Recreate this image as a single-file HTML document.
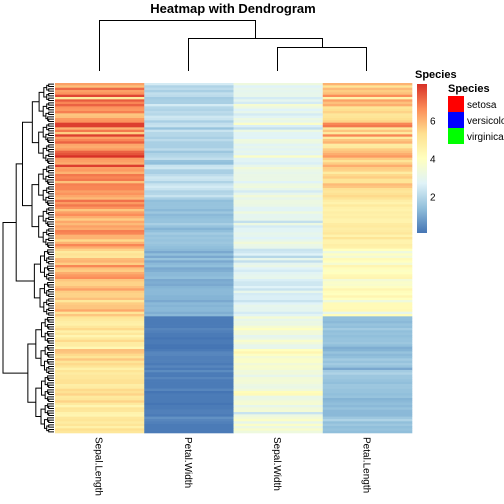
<!DOCTYPE html>
<html><head><meta charset="utf-8"><style>
body{margin:0;background:#fff;}
svg{display:block;font-family:"Liberation Sans",sans-serif;}
</style></head><body>
<svg id="c" width="504" height="504">
<text x="233" y="13" text-anchor="middle" font-size="13" font-weight="bold">Heatmap with Dendrogram</text>
<g id="col-dendro" stroke="#000" stroke-width="1" fill="none">
<path d="M99.5 71V20.5H255.5V38.5"/><path d="M188.5 71V38.5H322.5V47.5"/><path d="M277.5 71V47.5H366.5V71"/>
</g>
<g id="row-dendro" stroke="#000" stroke-width="1" fill="none"></g>
<g id="cells"></g>
<g id="xlabels" font-size="10" fill="#000"></g>
<g>
<text x="415" y="78" font-size="11" font-weight="bold">Species</text>
<defs><linearGradient id="g" x1="0" y1="1" x2="0" y2="0">
<stop offset="0" stop-color="#4575B4"/><stop offset="0.1667" stop-color="#91BFDB"/><stop offset="0.3333" stop-color="#E0F3F8"/><stop offset="0.5" stop-color="#FFFFBF"/><stop offset="0.6667" stop-color="#FEE090"/><stop offset="0.8333" stop-color="#FC8D59"/><stop offset="1" stop-color="#D73027"/></linearGradient></defs>
<rect x="417" y="84" width="10" height="149" fill="url(#g)"/>
<g id="cticks" font-size="10"></g>
</g>
<g font-size="10">
<text x="448" y="92" font-size="11" font-weight="bold">Species</text>
<rect x="448" y="96" width="16" height="16" fill="#ff0000"/>
<rect x="448" y="112" width="16" height="16" fill="#0000ff"/>
<rect x="448" y="128" width="16" height="16" fill="#00ff00"/>
<text x="467" y="108">setosa</text>
<text x="467" y="124">versicolor</text>
<text x="467" y="140">virginica</text>
</g>
</svg>
<script>
const columns=["Sepal.Length","Petal.Width","Sepal.Width","Petal.Length"];
const colorTicks=[2,4,6];
const setosa=[[5.1,3.5,1.4,0.2],[4.9,3.0,1.4,0.2],[4.7,3.2,1.3,0.2],[4.6,3.1,1.5,0.2],[5.0,3.6,1.4,0.2],[5.4,3.9,1.7,0.4],[4.6,3.4,1.4,0.3],[5.0,3.4,1.5,0.2],[4.4,2.9,1.4,0.2],[4.9,3.1,1.5,0.1],[5.4,3.7,1.5,0.2],[4.8,3.4,1.6,0.2],[4.8,3.0,1.4,0.1],[4.3,3.0,1.1,0.1],[5.8,4.0,1.2,0.2],[5.7,4.4,1.5,0.4],[5.4,3.9,1.3,0.4],[5.1,3.5,1.4,0.3],[5.7,3.8,1.7,0.3],[5.1,3.8,1.5,0.3],[5.4,3.4,1.7,0.2],[5.1,3.7,1.5,0.4],[4.6,3.6,1.0,0.2],[5.1,3.3,1.7,0.5],[4.8,3.4,1.9,0.2],[5.0,3.0,1.6,0.2],[5.0,3.4,1.6,0.4],[5.2,3.5,1.5,0.2],[5.2,3.4,1.4,0.2],[4.7,3.2,1.6,0.2],[4.8,3.1,1.6,0.2],[5.4,3.4,1.5,0.4],[5.2,4.1,1.5,0.1],[5.5,4.2,1.4,0.2],[4.9,3.1,1.5,0.2],[5.0,3.2,1.2,0.2],[5.5,3.5,1.3,0.2],[4.9,3.6,1.4,0.1],[4.4,3.0,1.3,0.2],[5.1,3.4,1.5,0.2],[5.0,3.5,1.3,0.3],[4.5,2.3,1.3,0.3],[4.4,3.2,1.3,0.2],[5.0,3.5,1.6,0.6],[5.1,3.8,1.9,0.4],[4.8,3.0,1.4,0.3],[5.1,3.8,1.6,0.2],[4.6,3.2,1.4,0.2],[5.3,3.7,1.5,0.2],[5.0,3.3,1.4,0.2]];
const versicolor=[[7.0,3.2,4.7,1.4],[6.4,3.2,4.5,1.5],[6.9,3.1,4.9,1.5],[5.5,2.3,4.0,1.3],[6.5,2.8,4.6,1.5],[5.7,2.8,4.5,1.3],[6.3,3.3,4.7,1.6],[4.9,2.4,3.3,1.0],[6.6,2.9,4.6,1.3],[5.2,2.7,3.9,1.4],[5.0,2.0,3.5,1.0],[5.9,3.0,4.2,1.5],[6.0,2.2,4.0,1.0],[6.1,2.9,4.7,1.4],[5.6,2.9,3.6,1.3],[6.7,3.1,4.4,1.4],[5.6,3.0,4.5,1.5],[5.8,2.7,4.1,1.0],[6.2,2.2,4.5,1.5],[5.6,2.5,3.9,1.1],[5.9,3.2,4.8,1.8],[6.1,2.8,4.0,1.3],[6.3,2.5,4.9,1.5],[6.1,2.8,4.7,1.2],[6.4,2.9,4.3,1.3],[6.6,3.0,4.4,1.4],[6.8,2.8,4.8,1.4],[6.7,3.0,5.0,1.7],[6.0,2.9,4.5,1.5],[5.7,2.6,3.5,1.0],[5.5,2.4,3.8,1.1],[5.5,2.4,3.7,1.0],[5.8,2.7,3.9,1.2],[6.0,2.7,5.1,1.6],[5.4,3.0,4.5,1.5],[6.0,3.4,4.5,1.6],[6.7,3.1,4.7,1.5],[6.3,2.3,4.4,1.3],[5.6,3.0,4.1,1.3],[5.5,2.5,4.0,1.3],[5.5,2.6,4.4,1.2],[6.1,3.0,4.6,1.4],[5.8,2.6,4.0,1.2],[5.0,2.3,3.3,1.0],[5.6,2.7,4.2,1.3],[5.7,3.0,4.2,1.2],[5.7,2.9,4.2,1.3],[6.2,2.9,4.3,1.3],[5.1,2.5,3.0,1.1],[5.7,2.8,4.1,1.3]];
const virginica=[[6.3,3.3,6.0,2.5],[5.8,2.7,5.1,1.9],[7.1,3.0,5.9,2.1],[6.3,2.9,5.6,1.8],[6.5,3.0,5.8,2.2],[7.6,3.0,6.6,2.1],[4.9,2.5,4.5,1.7],[7.3,2.9,6.3,1.8],[6.7,2.5,5.8,1.8],[7.2,3.6,6.1,2.5],[6.5,3.2,5.1,2.0],[6.4,2.7,5.3,1.9],[6.8,3.0,5.5,2.1],[5.7,2.5,5.0,2.0],[5.8,2.8,5.1,2.4],[6.4,3.2,5.3,2.3],[6.5,3.0,5.5,1.8],[7.7,3.8,6.7,2.2],[7.7,2.6,6.9,2.3],[6.0,2.2,5.0,1.5],[6.9,3.2,5.7,2.3],[5.6,2.8,4.9,2.0],[7.7,2.8,6.7,2.0],[6.3,2.7,4.9,1.8],[6.7,3.3,5.7,2.1],[7.2,3.2,6.0,1.8],[6.2,2.8,4.8,1.8],[6.1,3.0,4.9,1.8],[6.4,2.8,5.6,2.1],[7.2,3.0,5.8,1.6],[7.4,2.8,6.1,1.9],[7.9,3.8,6.4,2.0],[6.4,2.8,5.6,2.2],[6.3,2.8,5.1,1.5],[6.1,2.6,5.6,1.4],[7.7,3.0,6.1,2.3],[6.3,3.4,5.6,2.4],[6.4,3.1,5.5,1.8],[6.0,3.0,4.8,1.8],[6.9,3.1,5.4,2.1],[6.7,3.1,5.6,2.4],[6.9,3.1,5.1,2.3],[5.8,2.7,5.1,1.9],[6.8,3.2,5.9,2.3],[6.7,3.3,5.7,2.5],[6.7,3.0,5.2,2.3],[6.3,2.5,5.0,1.9],[6.5,3.0,5.2,2.0],[6.2,3.4,5.4,2.3],[5.9,3.0,5.1,1.8]];
// rows: [SL,SW,PL,PW]; column order SL,PW,SW,PL
const colIdx=[0,3,1,2];
const nonSet=virginica.concat(versicolor);
const topRows=nonSet.filter(r=>r[2]>=4.5);
const midRows=nonSet.filter(r=>r[2]<4.5);
const rows=topRows.concat(midRows,setosa);
const vmin=0.1,vmax=7.9;
const X0=55,Y0=83,W=357,H=350;
const cw=W/columns.length, rh=H/rows.length;
const pal=["#4575B4","#91BFDB","#E0F3F8","#FFFFBF","#FEE090","#FC8D59","#D73027"];
function hex(h){return [1,3,5].map(i=>parseInt(h.substr(i,2),16));}
function color(v){let t=Math.max(0,Math.min(1,(v-vmin)/(vmax-vmin)))*(pal.length-1);let i=Math.min(pal.length-2,Math.floor(t)),f=t-i;const a=hex(pal[i]),b=hex(pal[i+1]);return "rgb("+a.map((x,k)=>Math.round(x+(b[k]-x)*f)).join(",")+")";}
const xs=j=>X0+j*cw, ys=i=>Y0+i*rh;
const NS="http://www.w3.org/2000/svg";
const cells=document.getElementById("cells");
rows.forEach((r,i)=>{colIdx.forEach((ci,j)=>{
const el=document.createElementNS(NS,"rect");


el.setAttribute("x",xs(j));el.setAttribute("y",ys(i));el.setAttribute("width",cw+0.3);el.setAttribute("height",rh+0.3);el.setAttribute("fill",color(r[ci]));cells.appendChild(el);});});
const xl=document.getElementById("xlabels");
columns.forEach((c,j)=>{const t=document.createElementNS(NS,"text");


const x=xs(j)+cw/2-4,y=437;t.setAttribute("transform","translate("+x+","+y+") rotate(90)");t.textContent=c;xl.appendChild(t);});
const ct=document.getElementById("cticks");
colorTicks.forEach(v=>{const t=document.createElementNS(NS,"text");


const y=84+(vmax-v)/(vmax-vmin)*149;t.setAttribute("x",430);t.setAttribute("y",y+4);t.textContent=v;ct.appendChild(t);});
// row dendrogram
const rd=document.getElementById("row-dendro");let d="";
function node(a,b){if(b-a===1)return {y:ys(a)+rh/2,x:54};
let m=Math.floor((a+b)/2);
if(a===0&&b===rows.length)m=topRows.length+midRows.length;
else if(a===0&&b===topRows.length+midRows.length)m=topRows.length;
const L=node(a,m),R=node(m,b);
let x=53-46*Math.pow((b-a)/rows.length,0.55);
if(a===0&&b===rows.length)x=3;
x=Math.min(x,L.x-0.5,R.x-0.5);
d+="M"+L.x+" "+L.y+"H"+x+"V"+R.y+"H"+R.x;return {x:x,y:(L.y+R.y)/2};}
node(0,rows.length);
const p=document.createElementNS(NS,"path");p.setAttribute("d",d);


rd.appendChild(p);
</script>
</body></html>
